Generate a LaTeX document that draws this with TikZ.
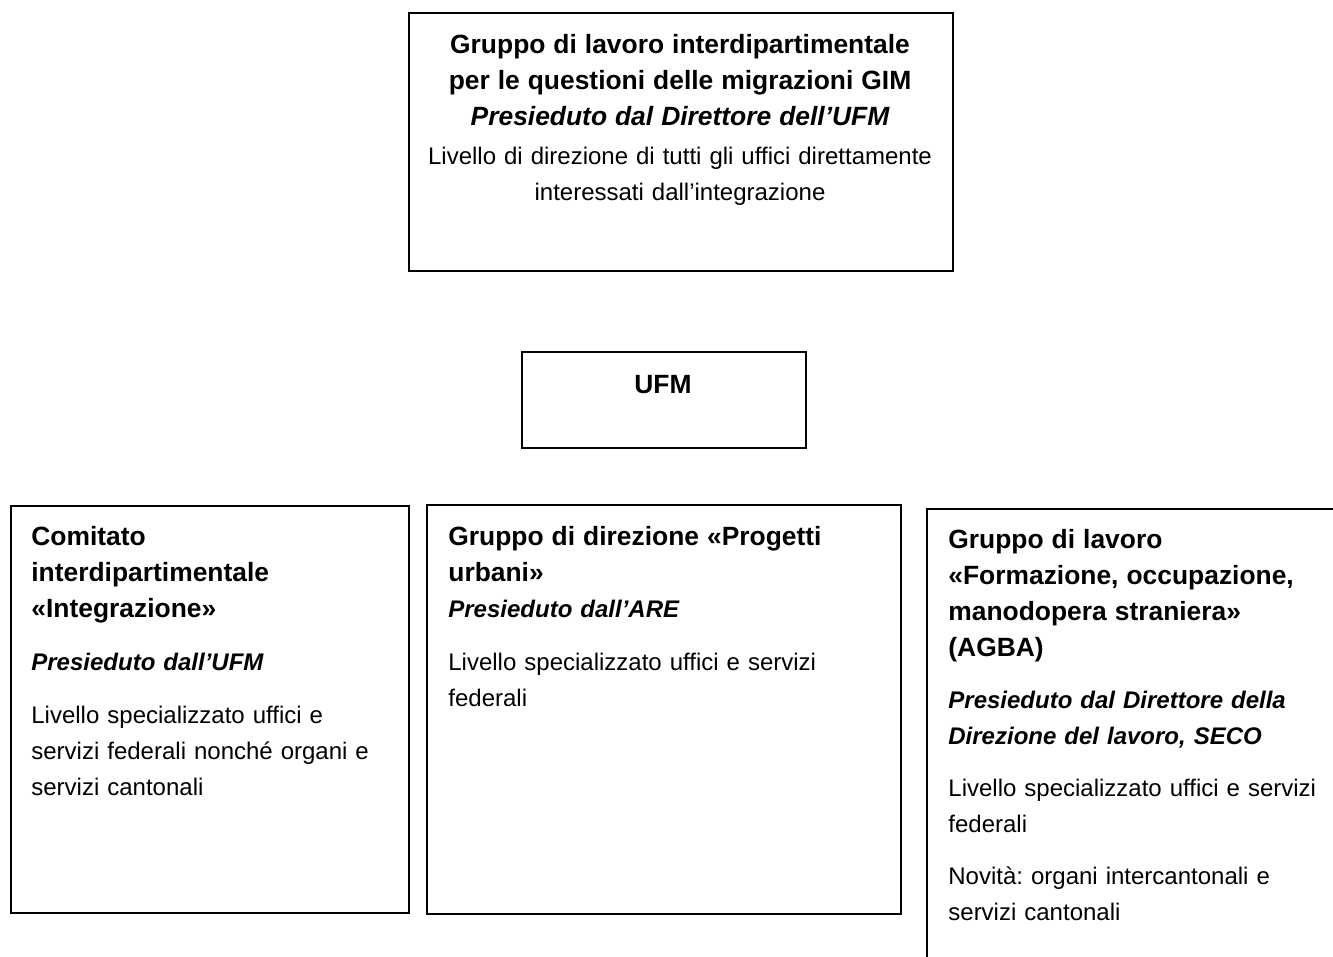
\documentclass[tikz,border=0pt]{standalone}
\usepackage{fontspec}
\setmainfont{Liberation Sans}
\newcommand\boxtitle{\fontsize{13.2}{18}\selectfont\bfseries}
\newcommand\boxchair{\fontsize{12}{18}\selectfont\bfseries\itshape}
\newcommand\boxplain{\fontsize{12}{18}\selectfont\mdseries\upshape}

\begin{document}
\begin{tikzpicture}[x=0.5pt, y=-0.5pt,
    frame/.style={draw, line width=0.9pt, inner sep=0pt, anchor=north west},
    txt/.style={inner sep=0pt, anchor=base west, align=left, text width=#1, font=\frenchspacing\fontsize{12}{18}\selectfont}]
        \useasboundingbox (0,0) rectangle (1333,957);
        \clip (0,0) rectangle (1333,957);
        \node[frame, minimum width=272pt, minimum height=129pt] (gim) at (408,12) {};
        \node[txt=270pt, anchor=base, align=center] (gimtext) at (680,54) {
            \boxtitle Gruppo di lavoro interdipartimentale\\
            per le questioni delle migrazioni GIM\\
            \itshape Presieduto dal Direttore dell’UFM\\[1.5pt]
            \boxplain Livello di direzione di tutti gli uffici direttamente\\
            interessati dall’integrazione
            };
        \node[frame, minimum width=142pt, minimum height=48pt] (ufm) at (521,351) {};
        \node[txt=100pt, anchor=base, align=center] (ufmtext) at (663,393) {\boxtitle UFM};
        \node[frame, minimum width=199pt, minimum height=203.5pt] (cii) at (10,505) {};
        \node[txt=185pt] (ciitext) at (31,545) {
            \boxtitle Comitato\\
            interdipartimentale\\
            «Integrazione»\\[8.5pt]
            \boxchair Presieduto dall’UFM\\[8.5pt]
            \boxplain Livello specializzato uffici e\\
            servizi federali nonché organi e\\
            servizi cantonali
            };
        \node[frame, minimum width=237pt, minimum height=204.5pt] (gdpu) at (426,504) {};
        \node[txt=220pt] (gdputext) at (448,545) {
            \boxtitle Gruppo di direzione «Progetti\\
            urbani»\\
            \boxchair Presieduto dall’ARE\\[8.5pt]
            \boxplain Livello specializzato uffici e servizi\\
            federali
            };
        \node[frame, minimum width=210pt, minimum height=235pt] (agba) at (926,508) {};
        \node[txt=190pt] (agbatext) at (948,548) {
            \boxtitle Gruppo di lavoro\\
            «Formazione, occupazione,\\
            manodopera straniera»\\
            (AGBA)\\[8pt]
            \boxchair Presieduto dal Direttore della\\
            Direzione del lavoro, SECO\\[8pt]
            \boxplain Livello specializzato uffici e servizi\\
            federali\\[8pt]
            Novità: organi intercantonali e\\
            servizi cantonali
            };
\end{tikzpicture}
\end{document}
